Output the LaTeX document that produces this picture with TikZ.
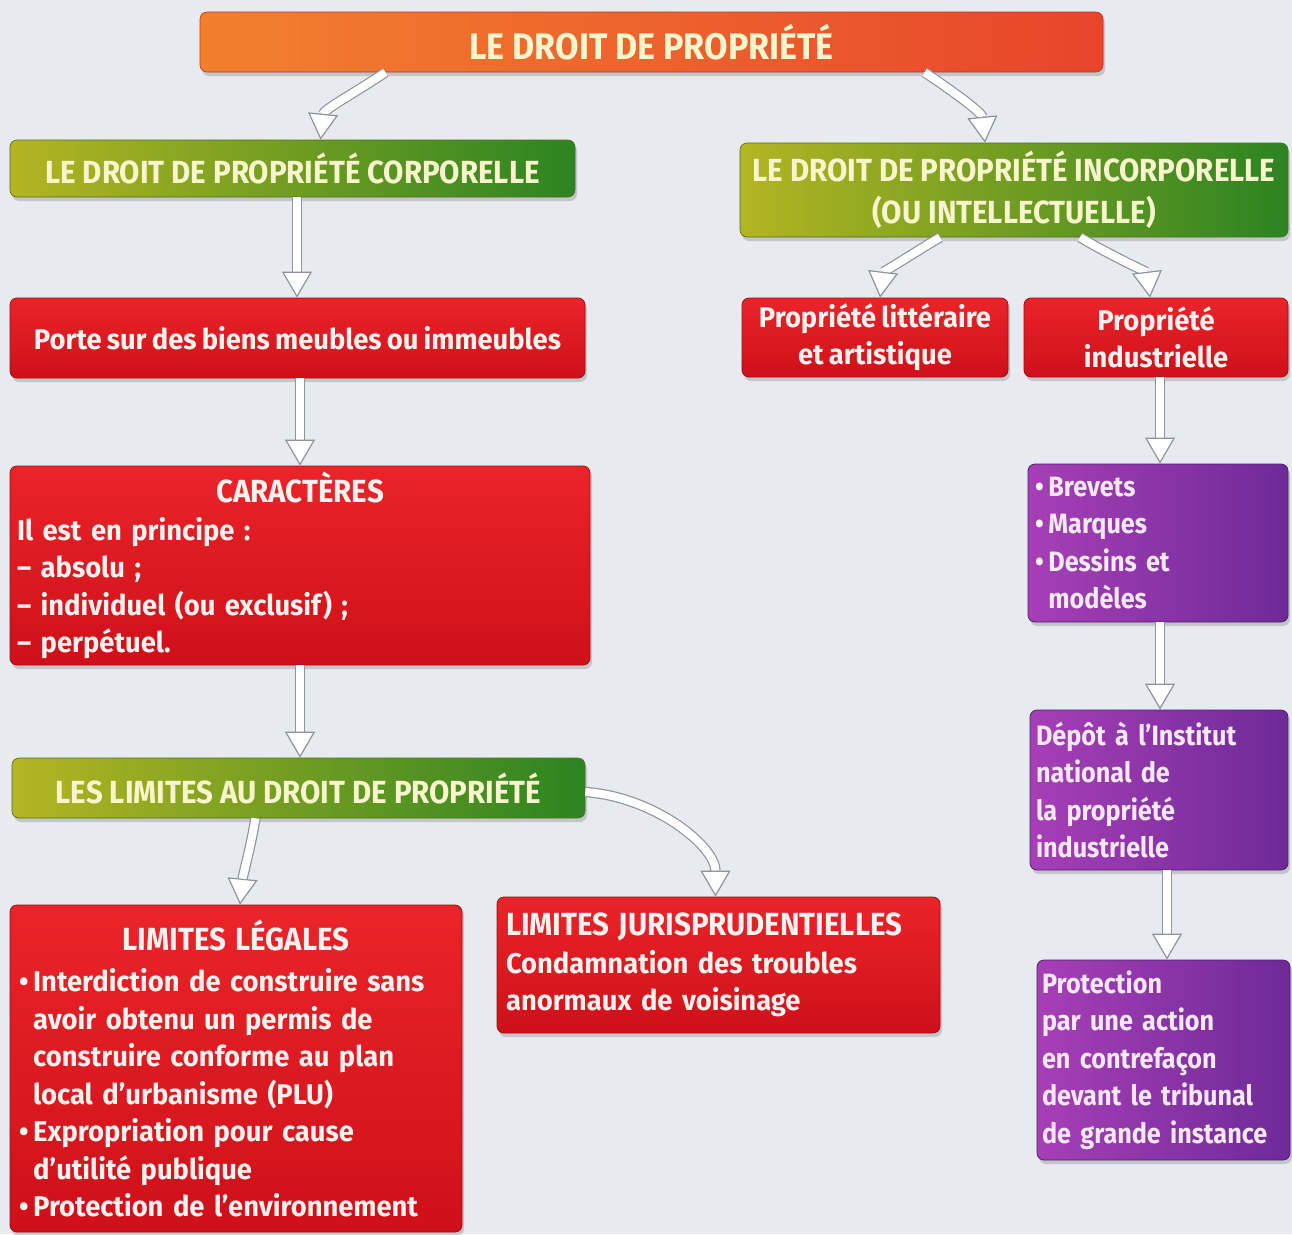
\documentclass[tikz,border=0pt]{standalone}
\usepackage{fontspec}
\setmainfont{Fira Sans}
\newfontfamily\capsfont{Fira Sans}[FakeStretch=0.92]
\newfontfamily\titlefont{Fira Sans}[FakeStretch=0.92]
\newfontfamily\bodyfont{Fira Sans}[FakeStretch=0.96, WordSpace=0.8]
\newfontfamily\purpfont{Fira Sans}[FakeStretch=0.90, WordSpace=0.8]
\hyphenpenalty=10000
\exhyphenpenalty=10000
\usetikzlibrary{arrows.meta,shadows}
\definecolor{bg}{HTML}{E7EAEE}
\definecolor{orL}{HTML}{F2802E}
\definecolor{orR}{HTML}{E8452C}
\definecolor{grL}{HTML}{B4B522}
\definecolor{grR}{HTML}{2C8422}
\definecolor{grD}{HTML}{4E6E1A}
\definecolor{redT}{HTML}{EA2429}
\definecolor{redB}{HTML}{CF1019}
\definecolor{redD}{HTML}{A10C14}
\definecolor{puL}{HTML}{A73FB6}
\definecolor{puR}{HTML}{6E2A98}
\definecolor{puD}{HTML}{4E1E70}
\definecolor{cream}{HTML}{F8F4CC}
\definecolor{rtext}{HTML}{FDF1F0}
\definecolor{ptext}{HTML}{F6E8F6}
\definecolor{arrowgray}{HTML}{8E949C}
\tikzset{
  box/.style={rounded corners=7pt, inner sep=0pt,
    drop shadow={opacity=0.35, shadow xshift=2pt, shadow yshift=-4pt}},
  orangebox/.style={box, left color=orL, right color=orR, draw=orR!80!black, line width=0.6pt, text=cream},
  greenbox/.style={box, left color=grL, right color=grR, draw=grD, line width=0.6pt, text=cream},
  redbox/.style={box, top color=redT, bottom color=redB, draw=redD, line width=0.8pt, text=rtext},
  purplebox/.style={box, left color=puL, right color=puR, draw=puD, line width=0.8pt, text=ptext,
    font=\purpfont\bfseries\fontsize{28}{37.5}\selectfont},
  titletext/.style={font=\titlefont\bfseries\fontsize{37}{42}\selectfont},
  capstext/.style={font=\capsfont\bfseries\fontsize{32}{42}\selectfont},
  bodytext/.style={font=\bodyfont\bfseries\fontsize{28.5}{37.5}\selectfont},
  flow/.style={draw=arrowgray, line width=1.2pt, double=white, double distance=8pt,
    -{Triangle[length=26pt, width=30pt, fill=white, line width=1.2pt]}},
}
\newcommand{\hd}[1]{{\capsfont\bfseries\fontsize{32}{38}\selectfont #1}}
\newcommand{\bul}{{\color{white!80!pink}•}\,}
\begin{document}
\begin{tikzpicture}[x=1pt,y=-1pt]
\fill[bg] (0,0) rectangle (1292,1234);
\useasboundingbox (0,0) rectangle (1292,1234);

% nodes
\node[orangebox, titletext, minimum width=903pt, minimum height=60pt] (top) at (651.5,42) {LE DROIT DE PROPRIÉTÉ};
\node[greenbox, capstext, minimum width=565pt, minimum height=57pt] (corp) at (292.5,168.5) {LE DROIT DE PROPRIÉTÉ CORPORELLE};
\node[greenbox, capstext, minimum width=548pt, minimum height=94pt, align=center] (incorp) at (1014,190) {LE DROIT DE PROPRIÉTÉ INCORPORELLE\\(OU INTELLECTUELLE)};
\node[redbox, bodytext, minimum width=575pt, minimum height=80pt] (porte) at (297.5,338) {Porte sur des biens meubles ou immeubles};
\node[redbox, bodytext, minimum width=266pt, minimum height=79pt, align=center] (litt) at (875,337.5) {Propriété littéraire\\et artistique};
\node[redbox, bodytext, minimum width=264pt, minimum height=79pt, align=center] (indus) at (1156,337.5) {Propriété\\industrielle};
\node[redbox, bodytext, minimum width=580pt, minimum height=199pt, text width=566pt, align=left] (carac) at (300,565.5)
  {\centering\hd{CARACTÈRES}\par
   \raggedright Il est en principe :\\– absolu ;\\– individuel (ou exclusif) ;\\– perpétuel.};
\node[purplebox, minimum width=260pt, minimum height=158pt, text width=246pt, align=left] (brev) at (1158,543)
  {\bul Brevets\\\bul Marques\\\bul Dessins et\\\phantom{\bul}modèles};
\node[greenbox, capstext, minimum width=573pt, minimum height=60pt] (lim) at (298.5,788) {LES LIMITES AU DROIT DE PROPRIÉTÉ};
\node[purplebox, minimum width=258pt, minimum height=160pt, text width=246pt, align=left] (depot) at (1159,790)
  {Dépôt à l’Institut\\national de\\la propriété\\industrielle};
\node[redbox, bodytext, minimum width=452pt, minimum height=327pt, text width=434pt, align=left] (leg) at (236,1068.5)
  {\centering{\hd{LIMITES LÉGALES}}\par\vspace{4pt}
   \raggedright\bul Interdiction de construire sans\\
   \phantom{\bul}avoir obtenu un permis de\\
   \phantom{\bul}construire conforme au plan\\
   \phantom{\bul}local d’urbanisme (PLU)\\
   \bul Expropriation pour cause\\
   \phantom{\bul}d’utilité publique\\
   \bul Protection de l’environnement};
\node[redbox, bodytext, minimum width=443pt, minimum height=136pt, text width=425pt, align=left] (juris) at (718.5,965)
  {\hd{LIMITES JURISPRUDENTIELLES}\\Condamnation des troubles\\anormaux de voisinage};
\node[purplebox, minimum width=253pt, minimum height=200pt, text width=243pt, align=left] (prot) at (1163.5,1060)
  {Protection\\par une action\\en contrefaçon\\devant le tribunal\\de grande instance};

% connectors
\draw[flow] ([xshift=-266pt]top.south) .. controls +(-30,20) and +(3,-30) .. ([xshift=28pt]corp.north);
\draw[flow] ([xshift=273pt]top.south) .. controls +(30,20) and +(-3,-30) .. ([xshift=-29pt]incorp.north);
\draw[flow] ([xshift=4.5pt]corp.south) -- ([xshift=-0.5pt]porte.north);
\draw[flow] ([xshift=2.5pt]porte.south) -- (carac.north);
\draw[flow] (carac.south) -- ([xshift=1.5pt]lim.north);
\draw[flow] ([xshift=-43pt]lim.south) .. controls +(-5,30) and +(3,-30) .. ([xshift=4pt]leg.north);
\draw[flow] ([yshift=-4pt]lim.east) .. controls +(70,5) and +(0,-50) .. ([xshift=-3pt]juris.north);
\draw[flow] ([xshift=-74pt]incorp.south) .. controls +(-25,15) and +(3,-25) .. ([xshift=5pt]litt.north);
\draw[flow] ([xshift=66pt]incorp.south) .. controls +(25,15) and +(-3,-25) .. ([xshift=-6pt]indus.north);
\draw[flow] ([xshift=4pt]indus.south) -- ([xshift=2pt]brev.north);
\draw[flow] ([xshift=2pt]brev.south) -- ([xshift=1pt]depot.north);
\draw[flow] ([xshift=8pt]depot.south) -- ([xshift=3.5pt]prot.north);
\end{tikzpicture}
\end{document}
